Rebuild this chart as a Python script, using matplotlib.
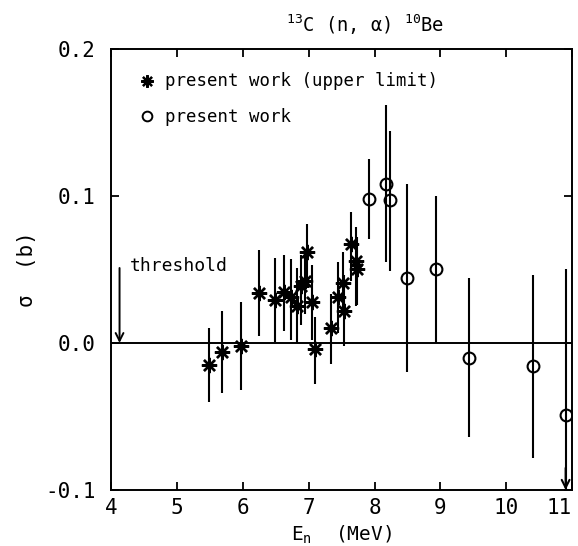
import matplotlib
matplotlib.use("Agg")
import matplotlib.pyplot as plt
import numpy as np

# 13C(n,alpha)10Be cross section: upper limits (asterisks)
ul_energy = [5.49, 5.69, 5.98, 6.25, 6.49, 6.62, 6.73, 6.82, 6.88, 6.95,
             6.98, 7.05, 7.09, 7.34, 7.44, 7.52, 7.54, 7.64, 7.72, 7.74]
ul_sigma = [-0.015, -0.006, -0.002, 0.034, 0.029, 0.035, 0.031, 0.025, 0.039, 0.042,
            0.062, 0.028, -0.004, 0.010, 0.031, 0.041, 0.022, 0.067, 0.056, 0.050]
ul_low = [-0.040, -0.034, -0.032, 0.005, 0.001, 0.008, 0.002, 0.000, 0.012, 0.020,
          0.042, 0.002, -0.028, -0.014, 0.007, 0.019, -0.002, 0.042, 0.025, 0.026]
ul_high = [0.010, 0.022, 0.028, 0.063, 0.058, 0.060, 0.057, 0.051, 0.060, 0.064,
           0.081, 0.053, 0.018, 0.033, 0.055, 0.062, 0.046, 0.089, 0.079, 0.072]

# 13C(n,alpha)10Be cross section: measured values (open circles)
pw_energy = [7.92, 8.17, 8.24, 8.49, 8.93, 9.43, 10.40, 10.90]
pw_sigma = [0.098, 0.108, 0.097, 0.044, 0.050, -0.010, -0.016, -0.049]
pw_low = [0.071, 0.055, 0.049, -0.020, 0.000, -0.064, -0.078, -0.100]
pw_high = [0.125, 0.162, 0.144, 0.108, 0.100, 0.044, 0.046, 0.050]

threshold_energy = 4.13

x_ticks = [4, 5, 6, 7, 8, 9, 10, 11]
y_ticks = [-0.1, 0.0, 0.1, 0.2]
y_ticklabels = ["-0.1", "0.0", "0.1", "0.2"]

mono = "DejaVu Sans Mono"
plt.rcParams["font.family"] = mono

fig = plt.figure(figsize=(5.78, 5.46), dpi=100)
ax = fig.add_axes([0.192, 0.1026, 0.798, 0.8077])

ax.set_xlim(4, 11)
ax.set_ylim(-0.1, 0.2)

# zero line
ax.axhline(0.0, color="black", lw=1.4, zorder=1)

ul_sigma_a = np.array(ul_sigma)
ul_err = [ul_sigma_a - np.array(ul_low), np.array(ul_high) - ul_sigma_a]
ax.errorbar(ul_energy, ul_sigma, yerr=ul_err, fmt="none", ecolor="black",
            elinewidth=1.5, capsize=0, zorder=2)
ax.plot(ul_energy, ul_sigma, linestyle="none", marker=(8, 2, 0), markersize=11,
        markeredgewidth=1.7, color="black", zorder=3)

pw_sigma_a = np.array(pw_sigma)
pw_err = [pw_sigma_a - np.array(pw_low), np.array(pw_high) - pw_sigma_a]
ax.errorbar(pw_energy, pw_sigma, yerr=pw_err, fmt="none", ecolor="black",
            elinewidth=1.5, capsize=0, zorder=2)
ax.plot(pw_energy, pw_sigma, linestyle="none", marker="o", markersize=8.5,
        markerfacecolor="none", markeredgewidth=1.5, color="black", zorder=3)

# error bar running off the bottom of the plot
ax.annotate("", xy=(pw_energy[-1], -0.1), xytext=(pw_energy[-1], -0.085),
            arrowprops=dict(arrowstyle="->", color="black", lw=1.5,
                            mutation_scale=14, shrinkA=0, shrinkB=0))

# reaction threshold marker
ax.annotate("", xy=(threshold_energy, 0.0), xytext=(threshold_energy, 0.051),
            arrowprops=dict(arrowstyle="->", color="black", lw=1.4,
                            mutation_scale=14, shrinkA=0, shrinkB=0))
ax.text(4.28, 0.0525, "threshold", fontsize=13, family=mono, va="center", ha="left")

# legend entries
ax.plot([4.55], [0.178], marker=(8, 2, 0), markersize=9, markeredgewidth=1.6,
        color="black", linestyle="none")
ax.text(4.82, 0.178, "present work (upper limit)", fontsize=12.5, family=mono,
        va="center", ha="left")
ax.plot([4.55], [0.1545], marker="o", markersize=7, markerfacecolor="none",
        markeredgewidth=1.4, color="black", linestyle="none")
ax.text(4.82, 0.154, "present work", fontsize=12.5, family=mono,
        va="center", ha="left")

# ticks: inside, on all four sides
ax.set_xticks(x_ticks)
ax.set_xticklabels([str(t) for t in x_ticks])
ax.set_yticks(y_ticks)
ax.set_yticklabels(y_ticklabels)
ax.tick_params(axis="both", direction="in", length=6, width=1.3,
               labelsize=15, top=True, right=True)
ax.tick_params(axis="x", pad=6)
ax.tick_params(axis="y", pad=11)
ax.get_xticklabels()[-1].set_horizontalalignment("right")

for sp in ax.spines.values():
    sp.set_linewidth(1.4)

ax.set_xlabel("E$_\\mathregular{n}$  (MeV)", fontsize=14, labelpad=4)
ax.set_ylabel("σ  (b)", fontsize=15, labelpad=6)
ax.set_title("$^{\\mathregular{13}}$C (n, α) $^{\\mathregular{10}}$Be",
             fontsize=13.5, pad=12, x=0.55)

fig.savefig("out.png", dpi=100)
